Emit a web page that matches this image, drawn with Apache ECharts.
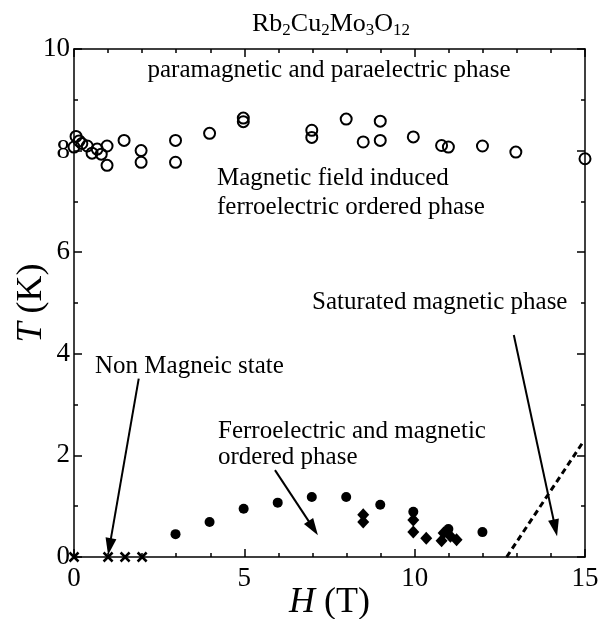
<!DOCTYPE html>
<html><head><meta charset="utf-8">
<script src="https://cdn.jsdelivr.net/npm/echarts@6/dist/echarts.min.js"></script>
<style>html,body{margin:0;padding:0;background:#fff}#c{width:612px;height:619px}</style>
</head><body><div id="c"></div>
<script>
// Open circles: paramagnetic / field-induced ferroelectric boundary [H (T), T (K)]
const openCircles = [[0,8.07],[0.06,8.28],[0.15,8.19],[0.23,8.14],[0.39,8.09],[0.53,7.95],[0.68,8.03],[0.8,7.93],[0.97,8.09],[0.97,7.71],[1.47,8.2],[1.97,8.0],[1.97,7.77],[2.98,8.2],[2.98,7.77],[3.98,8.34],[4.97,8.64],[4.97,8.57],[6.98,8.4],[6.98,8.26],[7.99,8.62],[8.49,8.17],[8.99,8.58],[8.99,8.2],[9.96,8.27],[10.79,8.1],[10.99,8.07],[11.99,8.09],[12.97,7.97],[15,7.84]];
// Filled circles: ferroelectric and magnetic ordered phase boundary
const filledCircles = [[2.98,0.45],[3.98,0.69],[4.98,0.95],[5.98,1.07],[6.98,1.18],[7.99,1.18],[8.99,1.03],[9.96,0.89],[10.99,0.55],[11.99,0.49]];
// Filled diamonds
const diamonds = [[8.49,0.83],[8.49,0.69],[9.96,0.73],[9.96,0.49],[10.34,0.37],[10.79,0.32],[10.85,0.47],[11.05,0.41],[11.23,0.34]];
// Crosses: non magnetic state
const crosses = [[0,0],[1,0],[1.5,0],[2,0]];
// Dashed saturation boundary
const saturationLine = [[12.7,0],[14.95,2.27]];
// Annotation arrows [H0, T0, H1(tip), T1(tip)]
const arrows = [[1.9,3.51,1.0,0.04],[5.9,1.71,7.16,0.43],[12.91,4.37,14.18,0.41]];

const FONT = '"Liberation Serif", "Times New Roman", serif';
const BLACK = '#000';
const chart = echarts.init(document.getElementById('c'), null, {renderer:'canvas'});

function xAx(pos, showLabel) {
  return {
    type:'value', min:0, max:15, interval:5, position:pos,
    axisLine:{show:true, onZero:false, lineStyle:{color:BLACK, width:1.5}},
    axisTick:{show:true, inside:true, length:8, lineStyle:{color:BLACK, width:1.5}},
    minorTick:{show:true, splitNumber:5, length:4, lineStyle:{color:BLACK, width:1.5}},
    splitLine:{show:false},
    axisLabel:{show:showLabel, fontFamily:FONT, fontSize:27, color:BLACK, margin:8},
    name: showLabel ? '{i|H} (T)' : '',
    nameLocation:'middle', nameGap:28, nameMoveOverlap:false,
    nameTextStyle:{fontFamily:FONT, fontSize:36, color:BLACK, rich:{i:{fontFamily:FONT, fontSize:36, fontStyle:'italic', color:BLACK}}}
  };
}
function yAx(pos, showLabel) {
  return {
    type:'value', min:0, max:10, interval:2, position:pos,
    axisLine:{show:true, onZero:false, lineStyle:{color:BLACK, width:1.5}},
    axisTick:{show:true, inside:true, length:8, lineStyle:{color:BLACK, width:1.5}},
    minorTick:{show:true, splitNumber:2, length:4, lineStyle:{color:BLACK, width:1.5}},
    splitLine:{show:false},
    axisLabel:{show:showLabel, fontFamily:FONT, fontSize:27, color:BLACK, margin:4},
    name: showLabel ? '{i|T} (K)' : '',
    nameLocation:'middle', nameGap:24, nameRotate:90, nameMoveOverlap:false,
    nameTextStyle:{fontFamily:FONT, fontSize:36, color:BLACK, rich:{i:{fontFamily:FONT, fontSize:36, fontStyle:'italic', color:BLACK}}}
  };
}

function txt(text, x, y, align) {
  return {type:'text', x:x, y:y, silent:true,
    style:{text:text, fontFamily:FONT, fontSize:25, fill:BLACK, align:align||'left', verticalAlign:'middle'}};
}

const option = {
  animation:false,
  backgroundColor:'#fff',
  grid:{left:74, right:27, top:49, bottom:62, containLabel:false, outerBoundsMode:'none'},
  xAxis:[xAx('bottom', true), xAx('top', false)],
  yAxis:[yAx('left', true), yAx('right', false)],
  graphic:[
    {type:'text', x:331, y:24, silent:true,
      style:{text:'Rb{s|2}Cu{s|2}Mo{s|3}O{s|12}', fontFamily:FONT, fontSize:26, fill:BLACK, align:'center', verticalAlign:'middle',
        rich:{s:{fontFamily:FONT, fontSize:17, fill:BLACK, padding:[14,0,0,0]}}}},
    txt('paramagnetic and paraelectric phase', 329, 70, 'center'),
    txt('Magnetic field induced', 217, 178),
    txt('ferroelectric ordered phase', 217, 207),
    txt('Saturated magnetic phase', 312, 302),
    txt('Non Magneic state', 95, 366),
    txt('Ferroelectric and magnetic', 218, 431),
    txt('ordered phase', 218, 457)
  ],
  series:[
    {type:'scatter', data:openCircles, symbol:'circle', symbolSize:11,
      itemStyle:{color:'rgba(0,0,0,0)', borderColor:BLACK, borderWidth:2, opacity:1}, silent:true},
    {type:'scatter', data:filledCircles, symbol:'circle', symbolSize:10,
      itemStyle:{color:BLACK, opacity:1}, silent:true},
    {type:'scatter', data:diamonds, symbol:'diamond', symbolSize:[12,13],
      itemStyle:{color:BLACK, opacity:1}, silent:true},
    {type:'scatter', data:crosses, symbol:'path://M0,0L10,10M10,0L0,10', symbolSize:9, clip:false,
      itemStyle:{color:'rgba(0,0,0,0)', borderColor:BLACK, borderWidth:2.5, opacity:1}, silent:true},
    {type:'line', data:saturationLine, symbol:'none', silent:true,
      lineStyle:{color:BLACK, width:3, type:[6,4], opacity:1}},
    {type:'custom', data:arrows, clip:false, silent:true,
      encode:{x:[0,2], y:[1,3]},
      renderItem:function(params, api){
        const p0 = api.coord([api.value(0), api.value(1)]);
        const p1 = api.coord([api.value(2), api.value(3)]);
        const dx = p1[0]-p0[0], dy = p1[1]-p0[1], L = Math.hypot(dx,dy);
        const ux = dx/L, uy = dy/L, hl = 17, hw = 5.5;
        const bx = p1[0]-ux*hl, by = p1[1]-uy*hl;
        return {type:'group', children:[
          {type:'line', shape:{x1:p0[0], y1:p0[1], x2:bx+ux*2, y2:by+uy*2}, style:{stroke:BLACK, lineWidth:2}},
          {type:'polygon', shape:{points:[[p1[0],p1[1]],[bx-uy*hw, by+ux*hw],[bx+uy*hw, by-ux*hw]]}, style:{fill:BLACK}}
        ]};
      }}
  ]
};
chart.setOption(option);
</script></body></html>
